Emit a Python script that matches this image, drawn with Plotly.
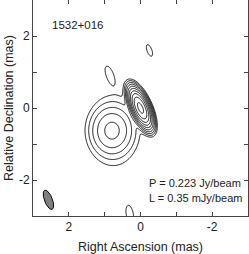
import numpy as np
import plotly.graph_objects as go

# Source model components: (RA offset, Dec offset, peak mJy/beam, sigma_x/major, sigma_y/minor, PA deg)
comp_names = ["core", "diffuse", "halo", "island1", "island2", "island3"]
comp_ra = [0.0, 0.80, 0.75, 0.86, -0.25, 0.30]
comp_dec = [0.0, -0.63, -0.62, 0.93, 1.60, -2.95]
comp_peak = [223.0, 6.0, 1.1, 0.57, 0.45, 0.6]
comp_smaj = [0.24, 0.32, 0.60, 0.24, 0.24, 0.24]
comp_smin = [0.095, 0.28, 0.42, 0.095, 0.095, 0.095]
comp_pa = [24.0, 0.0, 0.0, 21.0, 21.0, 10.0]

lowest_level = 0.35  # mJy/beam
n_levels = 10        # doubling contours
peak_text = "P = 0.223 Jy/beam"
low_text = "L = 0.35 mJy/beam"
source_name = "1532+016"

beam_ra, beam_dec = 2.57, -2.55
beam_maj, beam_min, beam_pa = 0.57, 0.22, 21.0

tick_vals = [-3, -2, -1, 0, 1, 2, 3]
tick_text = ["", "-2", "", "0", "", "2", ""]

xs = np.linspace(-3.05, 3.05, 305)
ys = np.linspace(-3.05, 3.05, 305)
X, Y = np.meshgrid(xs, ys)
F = np.zeros_like(X)
for ra, dec, pk, sa, sb, pa in zip(comp_ra, comp_dec, comp_peak, comp_smaj, comp_smin, comp_pa):
    t = np.radians(pa)
    dx, dy = X - ra, Y - dec
    u = dx * np.sin(t) + dy * np.cos(t)
    v = dx * np.cos(t) - dy * np.sin(t)
    F += pk * np.exp(-(u**2 / (2 * sa**2) + v**2 / (2 * sb**2)))
Z = np.log2(np.maximum(F, 1e-9) / lowest_level)

fig = go.Figure()
fig.add_trace(go.Contour(
    x=xs, y=ys, z=Z,
    contours=dict(start=0, end=n_levels - 1, size=1, coloring="lines"),
    colorscale=[[0, "black"], [1, "black"]],
    line=dict(width=0.9, color="black"),
    showscale=False, hoverinfo="skip",
))

th = np.linspace(0, 2 * np.pi, 60)
tb = np.radians(beam_pa)
a, b = beam_maj / 2, beam_min / 2
bu, bv = a * np.cos(th), b * np.sin(th)
bx = beam_ra + bu * np.sin(tb) + bv * np.cos(tb)
by = beam_dec + bu * np.cos(tb) - bv * np.sin(tb)
fig.add_trace(go.Scatter(x=bx, y=by, mode="lines", fill="toself",
                         fillcolor="#7f7f7f", line=dict(color="black", width=1),
                         showlegend=False, hoverinfo="skip"))

font = dict(family="Liberation Sans, Arial, sans-serif", color="#222", size=12)
axis_common = dict(
    tickvals=tick_vals, ticktext=tick_text, ticks="inside", ticklen=4,
    tickcolor="#444", showline=True, linecolor="#444", linewidth=1, mirror="ticks",
    showgrid=False, zeroline=False, tickfont=dict(size=12, color="#222"),
)
fig.update_layout(
    width=249, height=254,
    margin=dict(l=33, r=1, t=0, b=38, autoexpand=False),
    paper_bgcolor="white", plot_bgcolor="white",
    font=font, showlegend=False,
    xaxis=dict(range=[3, -3], title=dict(text="Right Ascension (mas)", font=dict(size=12.5), standoff=8), **axis_common),
    yaxis=dict(range=[-3, 3], title=dict(text="Relative Declination (mas)", font=dict(size=12.5), standoff=2), **axis_common),
    annotations=[
        dict(x=0.08, y=0.884, xref="paper", yref="paper", text=source_name, showarrow=False,
             xanchor="left", yanchor="middle", font=dict(size=11.5)),
        dict(x=0.53, y=0.152, xref="paper", yref="paper", text=peak_text, showarrow=False,
             xanchor="left", yanchor="middle", font=dict(size=11)),
        dict(x=0.53, y=0.083, xref="paper", yref="paper", text=low_text, showarrow=False,
             xanchor="left", yanchor="middle", font=dict(size=11)),
    ],
)
fig.write_html("out.html", config={"displayModeBar": False, "staticPlot": True})

with open("out.html", "r", encoding="utf-8") as fh:
    html = fh.read()
html = html.replace("<head>", "<head><style>html,body{margin:0;padding:0;overflow:hidden;}</style>", 1)
with open("out.html", "w", encoding="utf-8") as fh:
    fh.write(html)
